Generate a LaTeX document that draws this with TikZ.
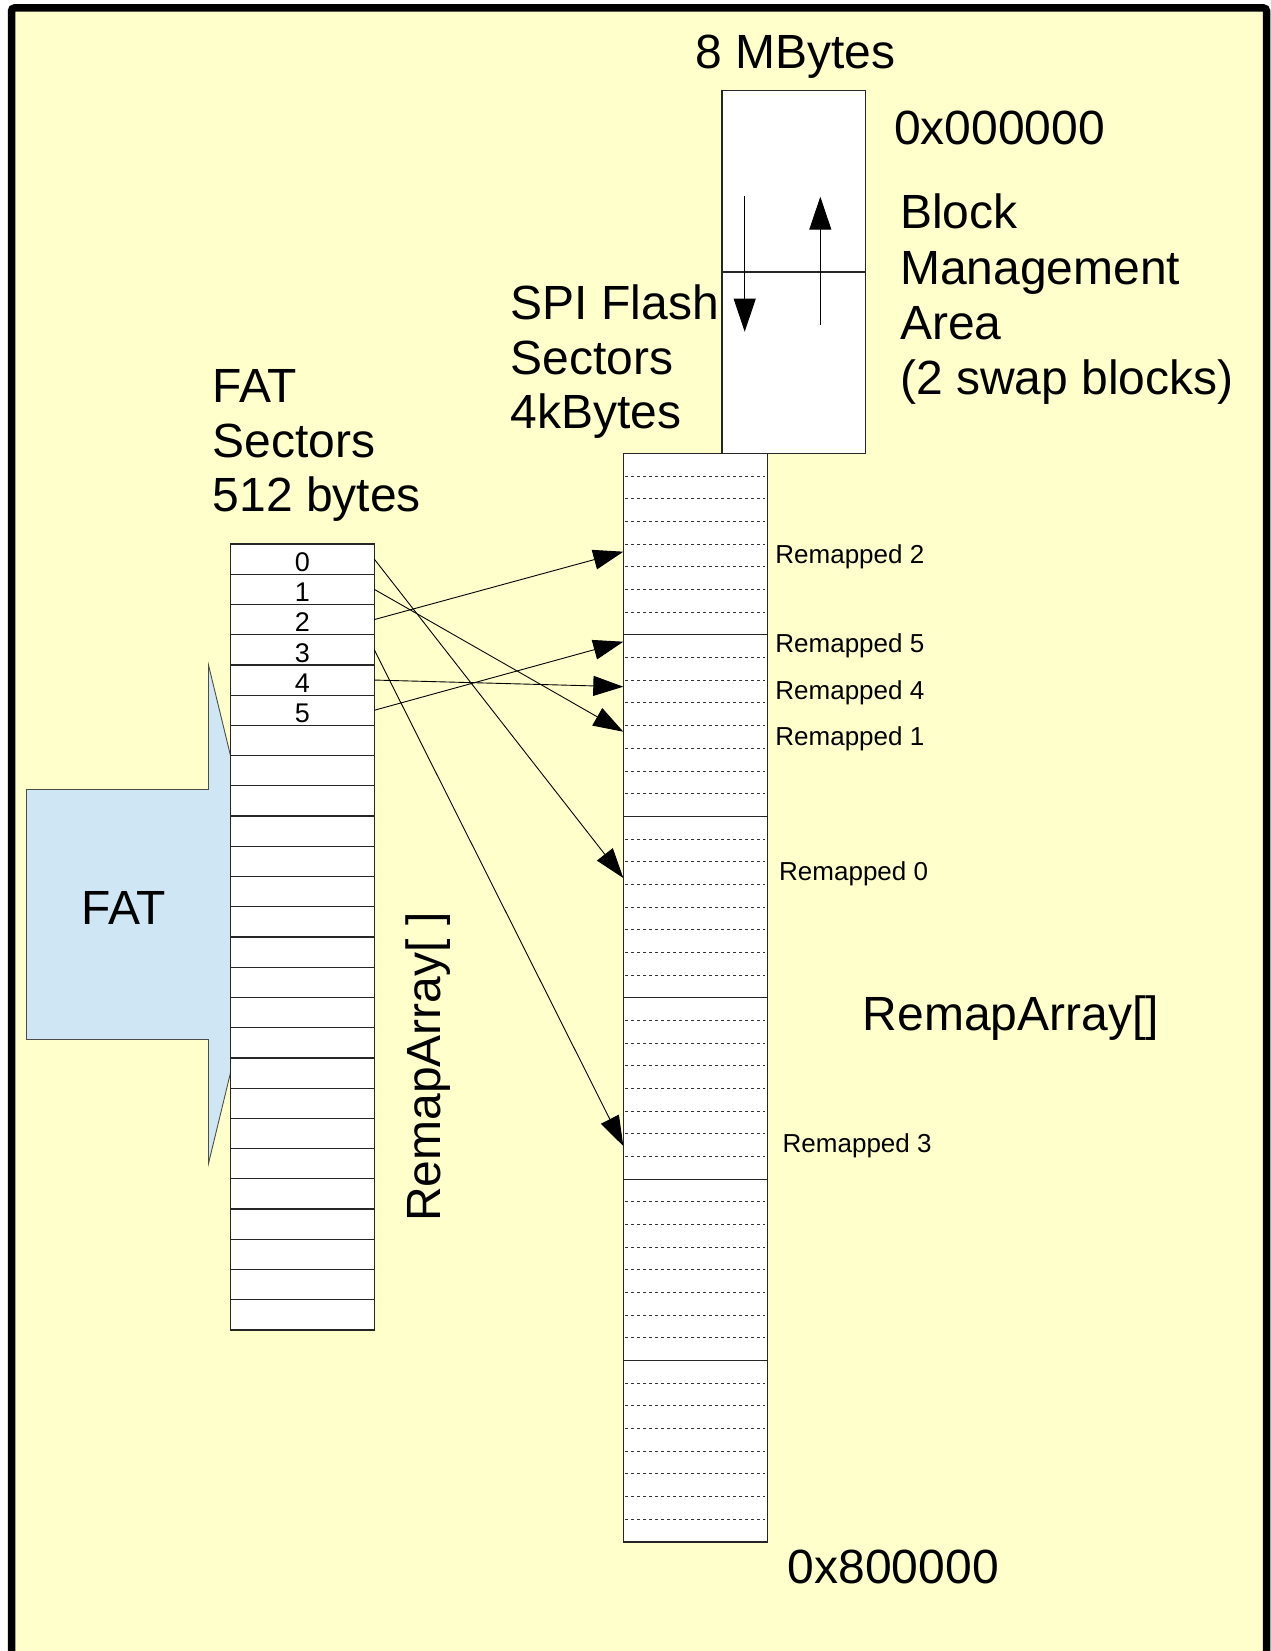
\documentclass[tikz,border=0pt]{standalone}
\usepackage{fontspec}
\setmainfont{Liberation Sans}
\usetikzlibrary{arrows.meta}
\definecolor{bgyellow}{HTML}{FFFFCC}
\definecolor{fatblue}{HTML}{CFE7F5}
\begin{document}
\begin{tikzpicture}[x=1pt,y=-1pt,
  big/.style={font=\fontsize{48}{55}\selectfont, inner sep=0pt, anchor=base west},
  small/.style={font=\fontsize{26}{30}\selectfont, inner sep=0pt, anchor=base west},
  digit/.style={font=\fontsize{27}{30}\selectfont, inner sep=0pt, anchor=base},
  conn/.style={line width=0.9pt, -{Triangle[length=30pt,width=20pt]}},
  swaparrow/.style={line width=1pt, -{Triangle[length=33pt,width=22pt]}},
  cellbox/.style={fill=white, draw=black!85, line width=1.2pt},
  dashline/.style={draw=black!80, line width=0.9pt, dash pattern=on 3pt off 3pt},
  solidsep/.style={draw=black!85, line width=1.1pt}]
\useasboundingbox (0,0) rectangle (1270,1651);
\fill[white] (0,0) rectangle (1270,1651);
\draw[line width=7.5pt, rounded corners=3pt, fill=bgyellow] (11.5,8) rectangle (1266.5,1720);

% FAT block arrow
\draw[fill=fatblue, draw=black!70, line width=0.9pt] (208.5,665) -- (269,914) -- (208.5,1163.5) -- (208.5,1039.5) -- (26.5,1039.5) -- (26.5,789.5) -- (208.5,789.5) -- cycle;
\node[big, anchor=base] (fatlbl) at (124,924.5) {FAT};

% FAT sectors table
\foreach \i in {0,...,25} {
  \draw[cellbox] (230.7,{544+30.23*\i}) rectangle (374.3,{544+30.23*(\i+1)});
}
\foreach \i in {0,...,5} {
  \node[digit] (d\i) at (302.5,{544+30.23*(\i+1)-2.8}) {\i};
  \coordinate (s\i) at (374.3,{544+30.23*(\i+0.5)});
}

% Block management area
\draw[cellbox, line width=1.1pt] (722,90.3) rectangle (865.7,453.5);
\draw[solidsep] (722,272) -- (865.7,272);
\coordinate (da1) at (744.7,196);
\coordinate (da2) at (744.7,331.7);
\coordinate (ua1) at (820.3,325);
\coordinate (ua2) at (820.3,196.7);
\draw[swaparrow] (da1) -- (da2);
\draw[swaparrow] (ua1) -- (ua2);

% SPI flash column
\draw[cellbox] (623.3,453.5) rectangle (767.3,1541.9);
\foreach \b in {0,...,5} {
  \foreach \s in {1,...,7} {
    \draw[dashline] (625,{453.5+181.4*\b+22.675*\s}) -- (765,{453.5+181.4*\b+22.675*\s});
  }
}
\foreach \b in {1,...,5} {
  \draw[solidsep] (623.3,{453.5+181.4*\b}) -- (767.3,{453.5+181.4*\b});
}

% remap targets
\coordinate (t0) at (623.3,878);
\coordinate (t1) at (623.3,731.7);
\coordinate (t2) at (623.3,551.7);
\coordinate (t3) at (623.3,1146);
\coordinate (t4) at (623.3,686.7);
\coordinate (t5) at (623.3,641.7);
\foreach \i in {0,...,5} {
  \draw[conn] (s\i) -- (t\i);
}

% texts
\node[big] (mb) at (695,68.5) {8 MBytes};
\node[big] (addr0) at (894,145) {0x000000};
\node[big] (bma1) at (900,228.5) {Block};
\node[big] (bma2) at (900,284) {Management};
\node[big] (bma3) at (900,339) {Area};
\node[big] (bma4) at (900,394) {(2 swap blocks)};
\node[big] (spi1) at (510.5,319) {SPI Flash};
\node[big] (spi2) at (510.5,374) {Sectors};
\node[big] (spi3) at (510.5,428.6) {4kBytes};
\node[big] (fs1) at (212.5,402.3) {FAT};
\node[big] (fs2) at (212.5,457) {Sectors};
\node[big] (fs3) at (212.5,511.8) {512 bytes};
\node[big, rotate=90] (ravert) at (440,1222) {RemapArray[ ]};
\node[big] (raright) at (862.7,1030) {RemapArray[]};
\node[big] (addr8) at (787.7,1583) {0x800000};

\node[small] (rm2) at (775.2,563.3) {Remapped 2};
\node[small] (rm5) at (775.2,652.7) {Remapped 5};
\node[small] (rm4) at (775.2,699.3) {Remapped 4};
\node[small] (rm1) at (775.2,745) {Remapped 1};
\node[small] (rm0) at (779,880) {Remapped 0};
\node[small] (rm3) at (782.5,1152) {Remapped 3};
\end{tikzpicture}
\end{document}
